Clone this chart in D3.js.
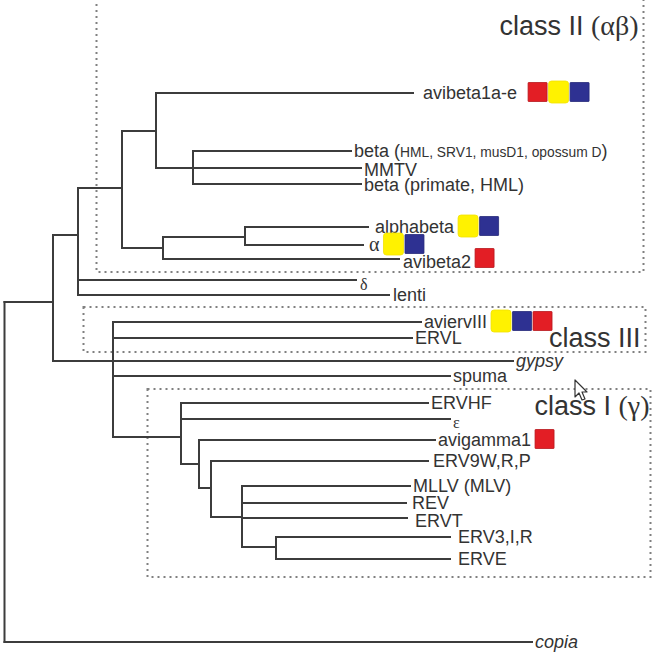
<!DOCTYPE html>
<html><head><meta charset="utf-8">
<script src="https://cdn.jsdelivr.net/npm/d3@7"></script>
<style>body{margin:0;background:#fff}</style>
</head><body><svg id="chart" width="660" height="655"></svg>
<script>
// ---- tree data ----
const nodeIds = ["root","A","copia","B","C","D","delta","lenti","E","F","avibeta1a-e","G","betaHML","MMTV","betaPrimate","H","avibeta2","alphabeta","alpha","aviervIII","ERVL","gypsy","spuma","I","ERVHF","epsilon","J","avigamma1","K","ERV9W","L","MLLV","REV","ERVT","M","ERV3","ERVE"];
const parentIds = [null,"root","root","A","A","B","B","B","D","D","E","E","G","G","G","F","F","H","H","C","C","C","C","C","I","I","I","J","J","K","K","L","L","L","L","M","M"];
// distance from root (branch-length units)
const branchDepths = [0,48.5,527.5,73.5,108.5,117.5,351.5,384.5,151.5,158.5,408.5,188.5,346.5,356.5,356.5,240.5,394.5,363.5,358.5,416.5,407.5,508.5,445.5,176.5,423.5,445.5,194.5,430.5,206.5,423.5,237.5,405.5,401.5,402.5,271.5,445.5,445.5];
// vertical row position
const rowPositions = [302,302,642,235,361,188,280,295,131,248,93,168,151,168,184,237,259,227,245,322,338,361,376,437,403,419,464,440,488,461,517,486,503,518,547,537,559];

// leaf label parts: [text, style]
const leafLabels = {
  "copia": [["copia","italic"]],
  "delta": [["δ","greekSmall"]],
  "lenti": [["lenti","sans"]],
  "avibeta1a-e": [["avibeta1a-e","sans"]],
  "betaHML": [["beta (","sans"],["HML, SRV1, musD1, opossum D","small"],[")","sans"]],
  "MMTV": [["MMTV","sans"]],
  "betaPrimate": [["beta (primate, HML)","sans"]],
  "avibeta2": [["avibeta2","sans"]],
  "alphabeta": [["alphabeta","sans"]],
  "alpha": [["α","greek"]],
  "aviervIII": [["aviervIII","sans"]],
  "ERVL": [["ERVL","sans"]],
  "gypsy": [["gypsy","italic"]],
  "spuma": [["spuma","sans"]],
  "ERVHF": [["ERVHF","sans"]],
  "epsilon": [["ε","greekSmall"]],
  "avigamma1": [["avigamma1","sans"]],
  "ERV9W": [["ERV9W,R,P","sans"]],
  "MLLV": [["MLLV (MLV)","sans"]],
  "REV": [["REV","sans"]],
  "ERVT": [["ERVT","sans"]],
  "ERV3": [["ERV3,I,R","sans"]],
  "ERVE": [["ERVE","sans"]]
};

// coloured domain markers
const markerLeaves = ["avibeta1a-e","alphabeta","alpha","avibeta2","aviervIII","avigamma1"];
const markerSets = [["red","yellow","blue"],["yellow","blue"],["yellow","blue"],["red"],["yellow","blue","red"],["red"]];

// clade annotations
const cladeNames = [["class II ","(αβ)"],["class III",""],["class I ","(γ)"]];
const cladeBoxX0 = [96.5, 83.5, 147.5];
const cladeBoxX1 = [643.5, 645.5, 650.5];
const cladeBoxY0 = [-6, 307, 389];
const cladeBoxY1 = [272, 352, 577];
const cladeLabelY = [35, 347, 415];

// ---- layout / style ----
const W = 660, H = 655;
const x = d3.scaleLinear().domain([0, 527.5]).range([4.5, 532]);
const y = d3.scaleLinear().domain([0, 655]).range([0, 655]);
const lineColor = "#3c3c3c", textColor = "#333";
const styles = {
  sans: {family:"'Liberation Sans', Arial, sans-serif", size:18, style:"normal"},
  small: {family:"'Liberation Sans', Arial, sans-serif", size:13.8, style:"normal"},
  italic: {family:"'Liberation Sans', Arial, sans-serif", size:18, style:"italic"},
  greek: {family:"'Liberation Serif', 'DejaVu Serif', serif", size:20, style:"normal"},
  greekSmall: {family:"'Liberation Serif', 'DejaVu Serif', serif", size:16, style:"normal"}
};
const labelGap = {"avibeta1a-e":10, "alphabeta":7, "REV":6, "ERVT":8, "ERV3":8, "ERVE":8, "ERV9W":5, "avibeta2":4, "alpha":6, "delta":4, "lenti":4, "gypsy":3};
const labelDy = {"delta":4, "epsilon":3, "avibeta2":3, "ERVT":3, "MMTV":2, "betaPrimate":1};
const markerGap = {"avibeta1a-e":11};
const colorMap = {red:"#e31e25", yellow:"#fff200", blue:"#2e3192"};
const strokeMap = {red:"#b8181d", yellow:"#f2e200", blue:"#262a7a"};

const table = nodeIds.map((id,i)=>({id, parent:parentIds[i], depth:branchDepths[i], row:rowPositions[i]}));
const root = d3.stratify().id(d=>d.id).parentId(d=>d.parent)(table);

const svg = d3.select("#chart");
svg.append("rect").attr("width",W).attr("height",H).attr("fill","#fff");

// clade boxes
const gBox = svg.append("g");
cladeNames.forEach((n,i)=>{
  gBox.append("rect")
    .attr("x", cladeBoxX0[i]).attr("y", y(cladeBoxY0[i]))
    .attr("width", cladeBoxX1[i]-cladeBoxX0[i]).attr("height", y(cladeBoxY1[i])-y(cladeBoxY0[i]))
    .attr("fill","none").attr("stroke","#808080").attr("stroke-width",2)
    .attr("stroke-dasharray","2,4");
});

// branches
const gTree = svg.append("g").attr("stroke", lineColor).attr("stroke-width", 2).attr("fill","none").attr("stroke-linecap","square");
root.descendants().forEach(n=>{
  if (n.parent) {
    gTree.append("line")
      .attr("x1", x(n.parent.data.depth)).attr("x2", x(n.data.depth))
      .attr("y1", y(n.data.row)).attr("y2", y(n.data.row));
  }
  if (n.children) {
    const ext = d3.extent(n.children, c=>c.data.row);
    gTree.append("line")
      .attr("x1", x(n.data.depth)).attr("x2", x(n.data.depth))
      .attr("y1", y(ext[0])).attr("y2", y(ext[1]));
  }
});

// leaf labels and markers
const gLab = svg.append("g").attr("fill", textColor);
root.leaves().forEach(n=>{
  const id = n.data.id;
  const parts = leafLabels[id];
  const lx = x(n.data.depth) + (labelGap[id] ?? 3);
  const ly = y(n.data.row) + (labelDy[id] ?? 0);
  const t = gLab.append("text").attr("x", lx).attr("y", ly).attr("dy","0.35em");
  parts.forEach(([txt, st])=>{
    const s = styles[st];
    t.append("tspan").text(txt)
      .attr("font-family", s.family).attr("font-size", s.size).attr("font-style", s.style);
  });
  const mi = markerLeaves.indexOf(id);
  if (mi >= 0) {
    const len = t.node().getComputedTextLength();
    let mx = lx + len + (markerGap[id] ?? 4);
    const cy = y(n.data.row) - 1;
    markerSets[mi].forEach(c=>{
      const isY = c === "yellow";
      const w = isY ? 20 : 19, h = isY ? 22 : 19;
      svg.append("rect").attr("x", mx).attr("y", cy - h/2)
        .attr("width", w).attr("height", h).attr("rx", isY ? 3 : 0.5)
        .attr("fill", colorMap[c]).attr("stroke", strokeMap[c]).attr("stroke-width", 0.8);
      mx += w + 1.5;
    });
  }
});

// clade labels
cladeNames.forEach((parts,i)=>{
  const t = svg.append("text").attr("x", cladeBoxX1[i] - (i===2 ? 1 : 5)).attr("y", y(cladeLabelY[i]))
    .attr("text-anchor","end").attr("fill", textColor);
  t.append("tspan").text(parts[0]).attr("font-family","'Liberation Sans', Arial, sans-serif").attr("font-size",27);
  if (parts[1]) t.append("tspan").text(parts[1]).attr("font-family","'Liberation Serif', serif").attr("font-size",28);
});

// mouse cursor seen in the screenshot
svg.append("path")
  .attr("d","M0,0 L0,17 L4,13 L7,20 L10,19 L7,12 L12,12 Z")
  .attr("transform","translate(575,380)")
  .attr("fill","#fff").attr("stroke","#333").attr("stroke-width",1.2).attr("stroke-linejoin","round");
</script>
</body></html>
